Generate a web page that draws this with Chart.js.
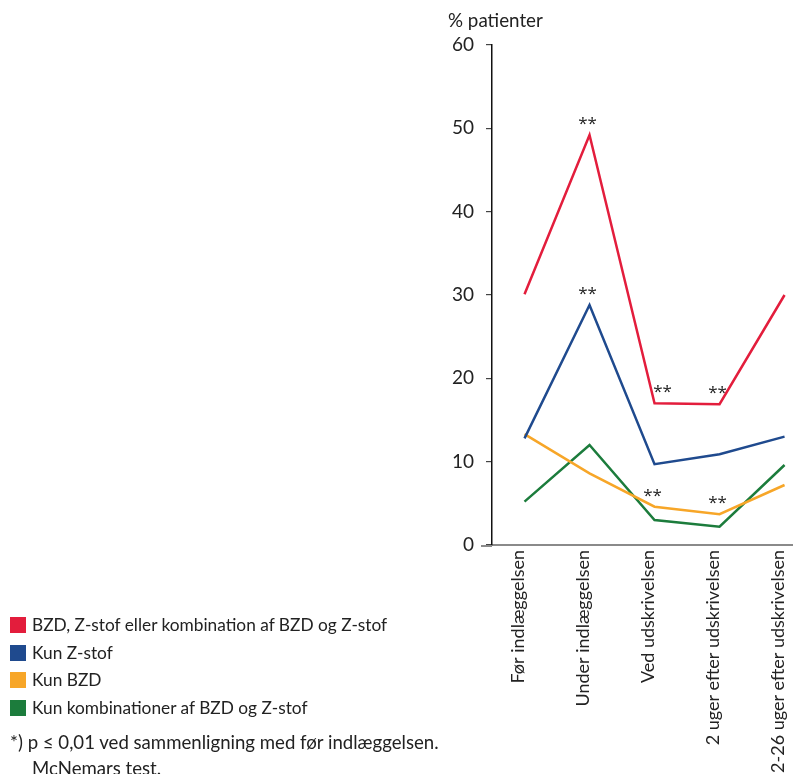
<!DOCTYPE html>
<html>
<head>
<meta charset="utf-8">
<script src="https://cdn.jsdelivr.net/npm/chart.js@4.4.1/dist/chart.umd.min.js"></script>
<style>
    html, body { margin: 0; padding: 0; background: #fff; overflow: hidden; }
    #wrap { position: relative; width: 793px; height: 774px; }
    #legend {
        position: absolute; left: 10px; top: 611px;
        font-family: Lato, sans-serif; font-size: 17.3px; color: #222;
    }
    #legend .row { height: 27.7px; line-height: 27.7px; white-space: nowrap; }
    #legend .box { display: inline-block; width: 16px; height: 16px; margin-right: 6px; vertical-align: -2px; }
    #note {
        position: absolute; left: 10px; top: 729px;
        font-family: Lato, sans-serif; font-size: 18.6px; color: #222; line-height: 26px;
        white-space: nowrap;
    }
    #note .indent { padding-left: 22px; }
</style>
</head>
<body>
<div id="wrap">
    <canvas id="chart" width="793" height="774"></canvas>
    <div id="legend"></div>
    <div id="note">
        <div>*) p ≤ 0,01 ved sammenligning med før indlæggelsen.</div>
        <div class="indent">McNemars test.</div>
    </div>
</div>
<script>
const categories = ['Før indlæggelsen', 'Under indlæggelsen', 'Ved udskrivelsen', '2 uger efter udskrivelsen', '2-26 uger efter udskrivelsen'];

const seriesNames = [
    'BZD, Z-stof eller kombination af BZD og Z-stof',
    'Kun Z-stof',
    'Kun BZD',
    'Kun kombinationer af BZD og Z-stof'
];
const bzdEllerZ = [30.1, 49.2, 17.0, 16.9, 30.0];
const kunZ = [12.8, 28.8, 9.7, 10.9, 13.0];
const kunBzd = [13.3, 8.6, 4.6, 3.7, 7.2];
const kunKombination = [5.2, 12.0, 3.0, 2.2, 9.6];

// significance markers: [series, category]
const markers = [[0, 1], [0, 2], [0, 3], [1, 1], [2, 2], [2, 3]];

const colors = ['#e31d3c', '#1f4a8e', '#f7a628', '#1c7c3c'];
const fontFamily = 'Lato, sans-serif';
const textColor = '#222';

const seriesValues = [bzdEllerZ, kunZ, kunBzd, kunKombination];

const datasets = seriesValues.map((vals, s) => ({
    label: seriesNames[s],
    data: vals.map((v, i) => ({ x: i, y: v })),
    borderColor: colors[s],
    backgroundColor: colors[s],
    borderWidth: 2.5,
    pointRadius: 0,
    tension: 0
}));

// legend in html, bottom left
const legendEl = document.getElementById('legend');
seriesNames.forEach((name, s) => {
    const row = document.createElement('div');
    row.className = 'row';
    row.innerHTML = '<span class="box" style="background:' + colors[s] + '"></span>' + name;
    legendEl.appendChild(row);
});

const extras = {
    id: 'extras',
    afterDraw(chart) {
        const ctx = chart.ctx;
        const x = chart.scales.x;
        const y = chart.scales.y;
        const area = chart.chartArea;
        ctx.save();

        // x axis runs a little past the y axis
        ctx.strokeStyle = '#8a8a8a';
        ctx.lineWidth = 2;
        ctx.beginPath();
        ctx.moveTo(area.left - 11, area.bottom + 1);
        ctx.lineTo(area.left, area.bottom + 1);
        ctx.stroke();

        // axis title
        ctx.fillStyle = textColor;
        ctx.font = '18.8px ' + fontFamily;
        ctx.textAlign = 'left';
        ctx.textBaseline = 'middle';
        ctx.fillText('% patienter', area.left - 44, 21);

        // ** markers
        ctx.font = "17px 'Open Sans', sans-serif";
        ctx.textAlign = 'center';
        markers.forEach(([s, i]) => {
            let px = x.getPixelForValue(i);
            const py = y.getPixelForValue(seriesValues[s][i]);
            if (s === 0 && i === 2) px += 10;
            ctx.fillText('**', px - 2, py - 11);
        });
        ctx.restore();
    }
};

new Chart(document.getElementById('chart'), {
    type: 'line',
    data: { datasets },
    options: {
        responsive: false,
        animation: false,
        layout: { padding: { left: 440, top: 45, right: 0, bottom: 0 } },
        plugins: {
            legend: { display: false },
            tooltip: { enabled: false }
        },
        scales: {
            x: {
                type: 'linear',
                min: -0.5,
                max: 4.13,
                afterBuildTicks: (scale) => {
                    scale.ticks = categories.map((c, i) => ({ value: i }));
                },
                afterFit: (scale) => {
                    scale.height = 229;
                    scale.paddingLeft = 0;
                    scale.paddingRight = 0;
                },
                grid: { drawOnChartArea: false, drawTicks: false },
                border: { color: '#8a8a8a', width: 2 },
                ticks: {
                    autoSkip: false,
                    minRotation: 90,
                    maxRotation: 90,
                    padding: 5,
                    labelOffset: -6,
                    color: textColor,
                    font: { family: fontFamily, size: 18 },
                    callback: (v) => categories[v]
                }
            },
            y: {
                min: 0,
                max: 60,
                afterFit: (scale) => {
                    scale.width = 52;
                    scale.paddingTop = 0;
                    scale.paddingBottom = 0;
                },
                grid: { drawOnChartArea: false, tickLength: 6, color: '#444', lineWidth: 1.2 },
                border: { color: '#111', width: 1.5 },
                ticks: {
                    stepSize: 10,
                    padding: 12,
                    color: textColor,
                    font: { family: fontFamily, size: 19 }
                }
            }
        }
    },
    plugins: [extras]
});
</script>
</body>
</html>
